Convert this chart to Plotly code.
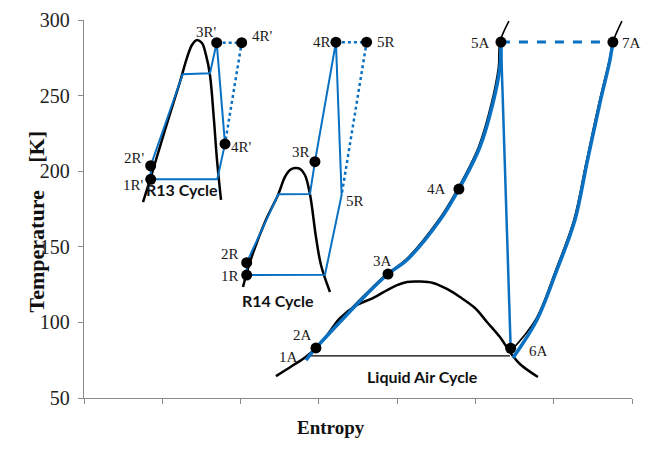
import plotly.graph_objects as go

# ---------------- data (entropy in arbitrary units, temperature in K) ----------------
# R13 cycle
r13_dome_s = [0.754, 0.843, 1.034, 1.226, 1.315, 1.379, 1.443, 1.507, 1.558, 1.609, 1.660, 1.699, 1.750]
r13_dome_T = [179.6, 194.2, 227.2, 259.0, 274.9, 283.5, 286.8, 284.8, 276.9, 263.6, 233.9, 207.4, 181.0]
r13_cycle_s = [0.852, 0.852, 1.261, 1.609, 1.695, 1.801, 1.702, 0.852]
r13_cycle_T = [194.6, 203.6, 264.1, 264.7, 285.0, 218.0, 194.6, 194.6]
r13_dot_s = [1.695, 2.014, 1.801]
r13_dot_T = [285.0, 285.0, 218.0]
r13_pts_lbl = ["1R'", "2R'", "3R'", "4R'", "4R'"]
r13_pts_s = [0.852, 0.852, 1.695, 2.014, 1.801]
r13_pts_T = [194.6, 203.6, 285.0, 285.0, 218.0]

# R14 cycle
r14_dome_s = [2.031, 2.120, 2.312, 2.478, 2.567, 2.631, 2.695, 2.759, 2.822, 2.886, 2.963, 3.027, 3.142]
r14_dome_T = [123.4, 139.9, 166.4, 184.3, 196.2, 200.8, 202.1, 201.5, 197.5, 184.9, 156.5, 138.0, 120.1]
r14_cycle_s = [2.078, 2.078, 2.481, 2.886, 2.950, 3.218, 3.291, 3.078, 2.078]
r14_cycle_T = [131.3, 139.5, 184.7, 184.9, 206.3, 285.3, 184.3, 131.5, 131.3]
r14_dot_s = [3.218, 3.610, 3.291]
r14_dot_T = [285.3, 285.3, 184.3]
r14_pts_lbl = ["1R", "2R", "3R", "4R", "5R"]
r14_pts_s = [2.078, 2.078, 2.950, 3.218, 3.610]
r14_pts_T = [131.3, 139.5, 206.3, 285.3, 285.3]
r14_extra_lbl = ["5R"]
r14_extra_s = [3.291]
r14_extra_T = [184.3]

# Liquid air cycle
air_dome_s = [2.452, 2.656, 2.848, 3.078, 3.270, 3.487, 3.691, 3.946, 4.125, 4.291, 4.457,
              4.636, 4.802, 4.994, 5.147, 5.313, 5.441, 5.568, 5.798]
air_dome_T = [64.5, 71.2, 77.8, 89.7, 102.9, 111.5, 116.1, 123.4, 126.7, 127.0, 126.1,
              122.1, 116.8, 109.5, 100.3, 90.3, 80.4, 72.5, 63.9]
air_sat_s = [2.848, 5.441]
air_sat_T = [77.8, 77.8]
air_hp_black_s = [3.250, 3.570, 3.862, 4.105, 4.527, 4.770, 5.038, 5.204, 5.293, 5.313, 5.428]
air_hp_black_T = [100.3, 117.5, 132.0, 141.3, 167.7, 188.2, 216.0, 245.1, 268.9, 285.4, 299.3]
air_hp_s = [2.835, 2.963, 3.270, 3.589, 3.883, 4.125, 4.547, 4.789, 5.057, 5.224, 5.313, 5.326]
air_hp_T = [75.1, 83.1, 100.3, 117.5, 132.0, 141.3, 167.7, 188.2, 216.0, 245.1, 268.9, 285.4]
air_exp_s = [5.326, 5.450]
air_exp_T = [285.4, 82.9]
air_lp_black_s = [5.441, 5.765, 6.025, 6.256, 6.412, 6.578, 6.710, 6.756, 6.871]
air_lp_black_T = [80.4, 101.6, 134.7, 167.7, 205.4, 245.1, 273.5, 285.4, 299.3]
air_lp_s = [5.479, 5.785, 6.041, 6.271, 6.424, 6.590, 6.718, 6.756]
air_lp_T = [76.5, 101.6, 134.7, 167.7, 205.4, 245.1, 273.5, 285.4]
air_dash_s = [5.326, 6.756]
air_dash_T = [285.4, 285.4]
air_pts_lbl = ["2A", "3A", "4A", "5A", "6A", "7A"]
air_pts_s = [2.963, 3.883, 4.789, 5.326, 5.450, 6.756]
air_pts_T = [83.1, 132.0, 188.2, 285.4, 82.9, 285.4]
air_extra_lbl = ["1A"]
air_extra_s = [2.835]
air_extra_T = [75.1]

cycle_names = ["R13 Cycle", "R14 Cycle", "Liquid Air Cycle"]
cycle_name_s = [1.248, 2.481, 4.330]
cycle_name_T = [187.6, 114.8, 64.1]

y_ticks = [50, 100, 150, 200, 250, 300]
x_ticks = [0, 1, 2, 3, 4, 5, 6, 7]

BLUE = "#0A70C2"
BLACK = "#000000"

fig = go.Figure()

def line(s, T, color, width, dash="solid", shape="linear"):
    fig.add_trace(go.Scatter(x=s, y=T, mode="lines", hoverinfo="skip",
                             line=dict(color=color, width=width, dash=dash, shape=shape)))

# black saturation domes / isobars
line(r13_dome_s, r13_dome_T, BLACK, 2.5, shape="spline")
line(r14_dome_s, r14_dome_T, BLACK, 2.5, shape="spline")
line(air_dome_s, air_dome_T, BLACK, 2.5, shape="spline")
line(air_sat_s, air_sat_T, BLACK, 1.3)
line(air_hp_black_s, air_hp_black_T, BLACK, 1.6, shape="spline")
line(air_lp_black_s, air_lp_black_T, BLACK, 1.6, shape="spline")

# blue cycles
line(r13_cycle_s, r13_cycle_T, BLUE, 2)
line(r13_dot_s, r13_dot_T, BLUE, 2.5, dash="dot")
line(r14_cycle_s, r14_cycle_T, BLUE, 2)
line(r14_dot_s, r14_dot_T, BLUE, 2.5, dash="dot")
line(air_hp_s, air_hp_T, BLUE, 3.5, shape="spline")
line(air_exp_s, air_exp_T, BLUE, 2.5)
line(air_lp_s, air_lp_T, BLUE, 3.5, shape="spline")
line(air_dash_s, air_dash_T, BLUE, 3, dash="dash")

# state points
for s, T in [(r13_pts_s, r13_pts_T), (r14_pts_s, r14_pts_T), (air_pts_s, air_pts_T)]:
    fig.add_trace(go.Scatter(x=s, y=T, mode="markers", hoverinfo="skip",
                             marker=dict(color=BLACK, size=11)))

# label offsets (style only): (xanchor, xshift, yshift)
offsets = {
    "1R'": ("right", -5, -6), "2R'": ("right", -4, 8), "3R'": ("right", 2, 11),
    "4R'": ("left", 8, 7), "1R": ("right", -6, -1), "2R": ("right", -6, 9),
    "3R": ("right", -3, 10), "4R": ("right", -3, 0), "5R": ("left", 8, 0),
    "2A": ("right", -2, 13), "3A": ("center", -5, 13), "4A": ("right", -11, 0),
    "5A": ("right", -9, -1), "6A": ("left", 16, -3), "7A": ("left", 7, -1),
    "1A": ("right", -6, 3),
}
serif = dict(family="Liberation Serif, Times New Roman, serif", size=15, color="#1a1a1a")

def labels(names, s, T, special=None):
    for i, (n, x, y) in enumerate(zip(names, s, T)):
        xa, xs, ys = offsets[n]
        if special and i in special:
            xa, xs, ys = special[i]
        fig.add_annotation(x=x, y=y, text=n, showarrow=False, xanchor=xa, yanchor="middle",
                           xshift=xs, yshift=ys, font=serif)

labels(r13_pts_lbl, r13_pts_s, r13_pts_T, special={4: ("left", 4, -3)})
labels(r14_pts_lbl, r14_pts_s, r14_pts_T)
labels(r14_extra_lbl, r14_extra_s, r14_extra_T, special={0: ("left", 2, -6)})
labels(air_pts_lbl, air_pts_s, air_pts_T)
labels(air_extra_lbl, air_extra_s, air_extra_T)

for n, x, y in zip(cycle_names, cycle_name_s, cycle_name_T):
    fig.add_annotation(x=x, y=y, text="<b>" + n + "</b>", showarrow=False,
                       font=dict(family="Lato, Open Sans, sans-serif", size=16, color="#111111"))

# axis titles
fig.add_annotation(xref="paper", yref="paper", x=0.451, y=-0.111, text="<b>Entropy</b>",
                   showarrow=False, font=dict(family="Liberation Serif, serif", size=19, color="#111111"))
fig.add_annotation(xref="paper", yref="paper", x=-0.113, y=0.466,
                   text="<b>Temperature\u00a0\u00a0\u00a0\u00a0\u00a0[K]</b>", textangle=-90,
                   showarrow=False, font=dict(family="Liberation Serif, serif", size=22, color="#111111"))

axis_common = dict(showgrid=False, zeroline=False, showline=True, linecolor="#8a8a8a",
                   linewidth=1.3, ticks="outside", tickcolor="#8a8a8a", ticklen=5, tickwidth=1.3,
                   automargin=False)
fig.update_xaxes(range=[0, 7], tickvals=x_ticks, showticklabels=False, **axis_common)
fig.update_yaxes(range=[50, 300], tickvals=y_ticks, ticklabelstandoff=4,
                 tickfont=dict(family="Liberation Serif, Times New Roman, serif", size=20, color="#222222"),
                 **axis_common)

# page body has an 8px margin, so the figure is made 8px smaller and margins reduced
fig.update_layout(width=648, height=452, showlegend=False,
                  margin=dict(l=76, r=24, t=12, b=62),
                  paper_bgcolor="white", plot_bgcolor="white")

fig.write_html("out.html")
